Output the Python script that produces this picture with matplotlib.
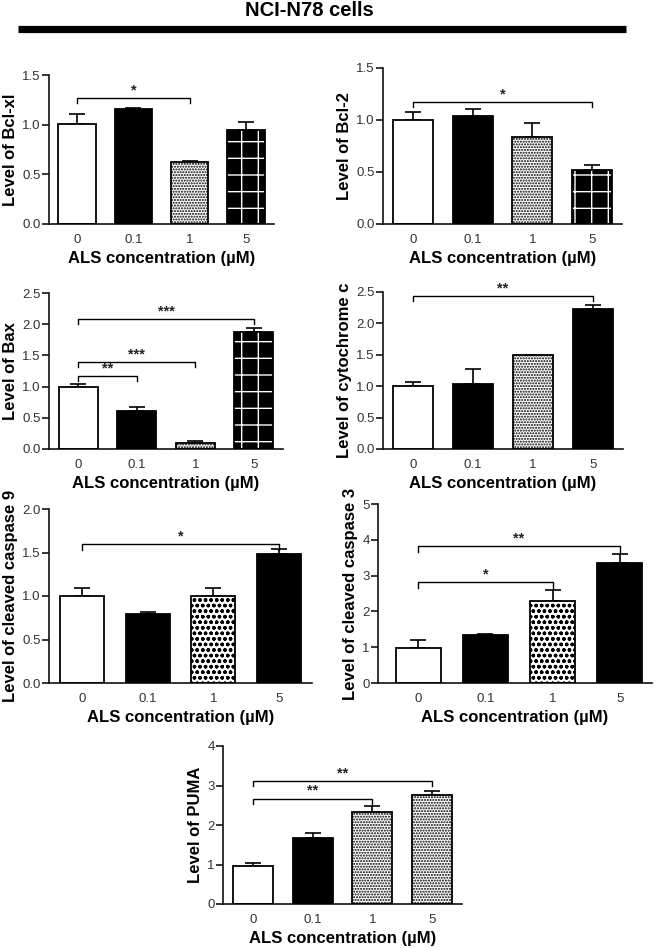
import matplotlib
matplotlib.use("Agg")
import matplotlib.pyplot as plt
from matplotlib.ticker import FormatStrFormatter

plt.rcParams['font.family'] = ['Liberation Sans', 'DejaVu Sans']

# ---------------- data ----------------
categories = ['0', '0.1', '1', '5']

bclxl_mean = [1.01, 1.16, 0.62, 0.95]
bclxl_err = [0.10, 0.01, 0.01, 0.08]
bclxl_sig = [(0, 2, 1.27, '*')]

bcl2_mean = [1.00, 1.04, 0.84, 0.52]
bcl2_err = [0.08, 0.07, 0.13, 0.05]
bcl2_sig = [(0, 3, 1.17, '*')]

bax_mean = [1.00, 0.61, 0.10, 1.87]
bax_err = [0.04, 0.07, 0.03, 0.07]
bax_sig = [(0, 1, 1.17, '**'), (0, 2, 1.39, '***'), (0, 3, 2.08, '***')]

cytc_mean = [1.00, 1.03, 1.49, 2.23]
cytc_err = [0.07, 0.24, 0.01, 0.07]
cytc_sig = [(0, 3, 2.44, '**')]

casp9_mean = [1.00, 0.79, 1.00, 1.48]
casp9_err = [0.09, 0.03, 0.09, 0.06]
casp9_sig = [(0, 3, 1.60, '*')]

casp3_mean = [0.99, 1.33, 2.30, 3.35]
casp3_err = [0.21, 0.03, 0.30, 0.25]
casp3_sig = [(0, 2, 2.82, '*'), (0, 3, 3.82, '**')]

puma_mean = [0.97, 1.68, 2.32, 2.76]
puma_err = [0.06, 0.13, 0.16, 0.10]
puma_sig = [(0, 2, 2.67, '**'), (0, 3, 3.12, '**')]

xlabel_text = 'ALS concentration (\u00b5M)'
title_text = 'NCI-N78 cells'

# ---------------- styles ----------------
WHITE = ('white', None, None)
BLACK = ('black', None, None)
DOTS = ('white', '......', 'black')
GRID = ('black', '+', 'white')
RINGS = ('white', 'ooo', 'black')

W, H = 655, 948
fig = plt.figure(figsize=(W / 100, H / 100), dpi=100)

panels = [
    # (px rect: left, top, right, bottom), mean, err, sig, ylabel, ylim, yticks, fmt, styles, xlim
    ((49, 75, 274, 224), bclxl_mean, bclxl_err, bclxl_sig, 'Level of Bcl-xl',
     1.5, [0, 0.5, 1.0, 1.5], '%.1f', [WHITE, BLACK, DOTS, GRID], (-0.5, 3.5)),
    ((383, 68, 622, 224), bcl2_mean, bcl2_err, bcl2_sig, 'Level of Bcl-2',
     1.5, [0, 0.5, 1.0, 1.5], '%.1f', [WHITE, BLACK, DOTS, GRID], (-0.5, 3.5)),
    ((49, 293, 283, 449), bax_mean, bax_err, bax_sig, 'Level of Bax',
     2.5, [0, 0.5, 1.0, 1.5, 2.0, 2.5], '%.1f', [WHITE, BLACK, DOTS, GRID], (-0.5, 3.5)),
    ((383, 292, 623, 449), cytc_mean, cytc_err, cytc_sig, 'Level of cytochrome c',
     2.5, [0, 0.5, 1.0, 1.5, 2.0, 2.5], '%.1f', [WHITE, BLACK, DOTS, BLACK], (-0.5, 3.5)),
    ((49, 509, 312, 683), casp9_mean, casp9_err, casp9_sig, 'Level of cleaved caspase 9',
     2.0, [0, 0.5, 1.0, 1.5, 2.0], '%.1f', [WHITE, BLACK, RINGS, BLACK], (-0.5, 3.5)),
    ((378, 504, 652, 683), casp3_mean, casp3_err, casp3_sig, 'Level of cleaved caspase 3',
     5, [0, 1, 2, 3, 4, 5], '%d', [WHITE, BLACK, RINGS, BLACK], (-0.6, 3.48)),
    ((223, 746, 462, 904), puma_mean, puma_err, puma_sig, 'Level of PUMA',
     4, [0, 1, 2, 3, 4], '%d', [WHITE, BLACK, DOTS, DOTS], (-0.5, 3.5)),
]

xpos = list(range(len(categories)))
bar_w = 0.67

for rect, mean, err, sig, ylab, ymax, yticks, fmt, styles, xlim in panels:
    l, t, r, b = rect
    ax = fig.add_axes([l / W, 1 - b / H, (r - l) / W, (b - t) / H])
    for xi, m, st in zip(xpos, mean, styles):
        face, hatch, hcol = st
        if hatch:
            ax.bar(xi, m, bar_w, color=face, edgecolor=hcol, hatch=hatch,
                   linewidth=0, zorder=2)
        else:
            ax.bar(xi, m, bar_w, color=face, linewidth=0, zorder=2)
        ax.bar(xi, m, bar_w, fill=False, edgecolor='black', linewidth=1.3, zorder=3)
    ax.errorbar(xpos, mean, yerr=[[0] * len(mean), err], fmt='none', ecolor='black',
                elinewidth=1.2, capsize=5.5, capthick=1.2, zorder=1)
    tick_d = 0.033 * ymax
    for i, j, h, lab in sig:
        ax.plot([xpos[i], xpos[i], xpos[j], xpos[j]], [h - tick_d, h, h, h - tick_d],
                color='black', lw=1.0, clip_on=False, zorder=4)
        ax.text((xpos[i] + xpos[j]) / 2, h + 0.004 * ymax, lab, ha='center', va='bottom',
                fontsize=10.5, fontweight='bold', color='#222222')
    ax.set_xlim(*xlim)
    ax.set_ylim(0, ymax)
    ax.set_yticks(yticks)
    ax.yaxis.set_major_formatter(FormatStrFormatter(fmt))
    ax.set_xticks(xpos)
    ax.set_xticklabels(categories)
    for s in ['top', 'right']:
        ax.spines[s].set_visible(False)
    for s in ['left', 'bottom']:
        ax.spines[s].set_linewidth(1.2)
        ax.spines[s].set_color('#111111')
    ax.tick_params(axis='y', length=5, width=1.1, pad=1, labelsize=9.5, labelcolor='#333333')
    ax.tick_params(axis='x', length=0, pad=7, labelsize=9.5, labelcolor='#333333')
    ax.set_xlabel(xlabel_text, fontsize=12, fontweight='bold', labelpad=4)
    ax.set_ylabel(ylab, fontsize=12, fontweight='bold', labelpad=3)

fig.text(309 / W, 1 - 10.5 / H, title_text, ha='center', va='center',
         fontsize=14.5, fontweight='bold')
fig.add_artist(plt.Line2D([17.5 / W, 626 / W], [1 - 28.5 / H, 1 - 28.5 / H],
                          transform=fig.transFigure, color='black', linewidth=5.2,
                          solid_capstyle='butt'))

fig.savefig('out.png', dpi=100)
